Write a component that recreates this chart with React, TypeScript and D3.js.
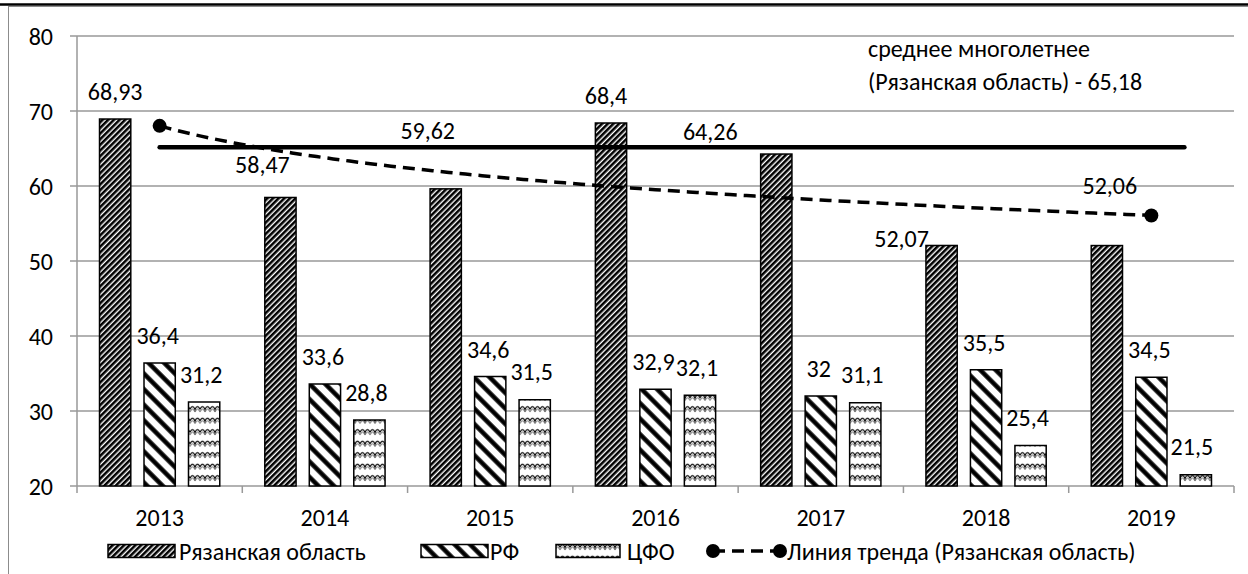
import React from 'react';
import * as d3 from 'd3';

const years = ['2013', '2014', '2015', '2016', '2017', '2018', '2019'];
const ryazan = [68.93, 58.47, 59.62, 68.4, 64.26, 52.07, 52.06];
const rf = [36.4, 33.6, 34.6, 32.9, 32, 35.5, 34.5];
const cfo = [31.2, 28.8, 31.5, 32.1, 31.1, 25.4, 21.5];
const yTicks = [20, 30, 40, 50, 60, 70, 80];
const avgValue = 65.18;
const seriesNames = ['Рязанская область', 'РФ', 'ЦФО'];
const trendName = 'Линия тренда (Рязанская область)';
const noteLines = ['среднее многолетнее', '(Рязанская область) - 65,18'];

// label offsets (px) relative to bar centre / bar top (some labels were moved by hand)
const ryazanLabelDx = [0, -18, -18, -5, -66, -40, 3];
const ryazanLabelDy = [-27.5, -32.5, -58, -28, -23, -7, -60.5];
const rfLabelDx = [-2, -2, -2, -2, -2, -2, -2];
const rfLabelDy = [-27.5, -27.5, -27.5, -27.5, -27.5, -27.5, -27.5];
const cfoLabelDx = [-3, -3, -3, -3, -3, -3, -4];
const cfoLabelDy = [-28, -28, -28, -28, -28, -28, -28.5];

const W = 1248;
const H = 574;
const FONT = "Carlito, Lato, 'Liberation Sans', Arial, sans-serif";
const FS = 24;

const fmt = (v: number) => String(v).replace('.', ',');

export default function App() {
  const left = 77, right = 1234, top = 36, bottom = 486;
  const x = d3.scaleBand<string>().domain(years).range([left, right]).padding(0);
  const inner = d3.scaleBand<string>().domain(['a', 'b', 'c']).range([0, x.bandwidth()])
    .paddingInner(0.297).paddingOuter(0.506);
  const y = d3.scaleLinear().domain([20, 80]).range([bottom, top]);
  const bw = inner.bandwidth();
  const xc = d3.scaleLinear().domain([0.5, years.length + 0.5]).range([left, right]);

  // logarithmic trend (as Excel) fitted to the Ryazan series
  const lx = ryazan.map((_, i) => Math.log(i + 1));
  const mx = d3.mean(lx)!;
  const my = d3.mean(ryazan)!;
  const b = d3.sum(lx.map((v, i) => (v - mx) * (ryazan[i] - my))) / d3.sum(lx.map(v => (v - mx) ** 2));
  const a = my - b * mx;
  const tPts = d3.range(1, years.length + 0.001, 0.05);
  const trendLine = d3.line<number>().x(t => xc(t)).y(t => y(a + b * Math.log(t)));

  const series = [
    { key: 'a', vals: ryazan, fill: 'url(#pR)', dx: ryazanLabelDx, dy: ryazanLabelDy },
    { key: 'b', vals: rf, fill: 'url(#pF)', dx: rfLabelDx, dy: rfLabelDy },
    { key: 'c', vals: cfo, fill: 'url(#pC)', dx: cfoLabelDx, dy: cfoLabelDy },
  ];

  const legendY = 551;
  const legendItems = [
    { x0: 108, w: 67, fill: 'url(#pR)', tx: 179, label: seriesNames[0] },
    { x0: 421, w: 67, fill: 'url(#pF)', tx: 490, label: seriesNames[1] },
    { x0: 556, w: 64, fill: 'url(#pC)', tx: 627, label: seriesNames[2] },
  ];

  return (
    <svg width={W} height={H} style={{ position: 'absolute', left: 0, top: 0, background: '#fff' }}
      fontFamily={FONT} fontSize={FS}>
      <defs>
        <pattern id="pR" patternUnits="userSpaceOnUse" width={4} height={4} patternTransform="rotate(45)">
          <rect width={4} height={4} fill="#fff" />
          <line x1={1.3} y1={0} x2={1.3} y2={4} stroke="#000" strokeWidth={2.6} />
        </pattern>
        <pattern id="pF" patternUnits="userSpaceOnUse" width={11} height={11} patternTransform="rotate(-45)">
          <rect width={11} height={11} fill="#fff" />
          <line x1={2.5} y1={0} x2={2.5} y2={11} stroke="#000" strokeWidth={4.5} />
        </pattern>
        <pattern id="pC" patternUnits="userSpaceOnUse" width={10} height={11.5}>
          <rect width={10} height={11.5} fill="#fff" />
          <path d="M0,7 Q2.5,1.5 5,7 Q7.5,1.5 10,7" fill="none" stroke="#000" strokeWidth={1.3} />
          <path d="M0,9.5 Q2.5,4 5,9.5 Q7.5,4 10,9.5" fill="none" stroke="#000" strokeWidth={0.6} />
        </pattern>
      </defs>

      {/* page fragments: top rule and chart border */}
      <rect x={8.5} y={6.5} width={W + 20} height={H + 20} fill="none" stroke="#8c8c8c" strokeWidth={1} />
      <line x1={0} x2={W} y1={4.5} y2={4.5} stroke="#000" strokeWidth={2.5} />

      {/* gridlines and axes */}
      {yTicks.map(t => (
        <g key={t}>
          <line x1={left - 7} x2={right} y1={y(t)} y2={y(t)} stroke="#999" strokeWidth={1.5} />
          <text x={53} y={y(t)} textAnchor="end" dominantBaseline="central">{t}</text>
        </g>
      ))}
      <line x1={left} x2={left} y1={top} y2={bottom + 7} stroke="#999" strokeWidth={1.5} />
      {years.map((yr, i) => (
        <line key={'t' + i} x1={x(yr)! + x.bandwidth()} x2={x(yr)! + x.bandwidth()} y1={bottom} y2={bottom + 7}
          stroke="#999" strokeWidth={1.5} />
      ))}
      {years.map(yr => (
        <text key={'x' + yr} x={x(yr)! + x.bandwidth() / 2} y={517} textAnchor="middle" dominantBaseline="central">{yr}</text>
      ))}

      {/* bars */}
      {series.map(s => years.map((yr, i) => (
        <rect key={s.key + yr} x={x(yr)! + inner(s.key)!} y={y(s.vals[i])} width={bw}
          height={y(20) - y(s.vals[i])} fill={s.fill} stroke="#000" strokeWidth={1.5} />
      )))}

      {/* average line */}
      <line x1={xc(1)} x2={xc(7.2)} y1={y(avgValue)} y2={y(avgValue)} stroke="#000" strokeWidth={4.5} strokeLinecap="round" />

      {/* trend */}
      <path d={trendLine(tPts)!} fill="none" stroke="#000" strokeWidth={3.5} strokeDasharray="12 7" />
      <circle cx={xc(1)} cy={y(a)} r={7} fill="#000" />
      <circle cx={xc(7)} cy={y(a + b * Math.log(7))} r={7} fill="#000" />

      {/* data labels */}
      {series.map(s => years.map((yr, i) => (
        <text key={'l' + s.key + yr} x={x(yr)! + inner(s.key)! + bw / 2 + s.dx[i]} y={y(s.vals[i]) + s.dy[i]}
          textAnchor="middle" dominantBaseline="central">{fmt(s.vals[i])}</text>
      )))}

      {/* note */}
      {noteLines.map((l, i) => (
        <text key={'n' + i} x={868} y={48 + i * 33} dominantBaseline="central">{l}</text>
      ))}

      {/* legend */}
      {legendItems.map((it, i) => (
        <g key={'lg' + i}>
          <rect x={it.x0} y={legendY - 6.5} width={it.w} height={13} fill={it.fill} stroke="#000" strokeWidth={1.5} />
          <text x={it.tx} y={legendY} dominantBaseline="central">{it.label}</text>
        </g>
      ))}
      <line x1={713} x2={780} y1={legendY} y2={legendY} stroke="#000" strokeWidth={3.5} strokeDasharray="12 7" />
      <circle cx={713} cy={legendY} r={7} fill="#000" />
      <circle cx={780} cy={legendY} r={7} fill="#000" />
      <text x={787} y={legendY} dominantBaseline="central">{trendName}</text>
    </svg>
  );
}
